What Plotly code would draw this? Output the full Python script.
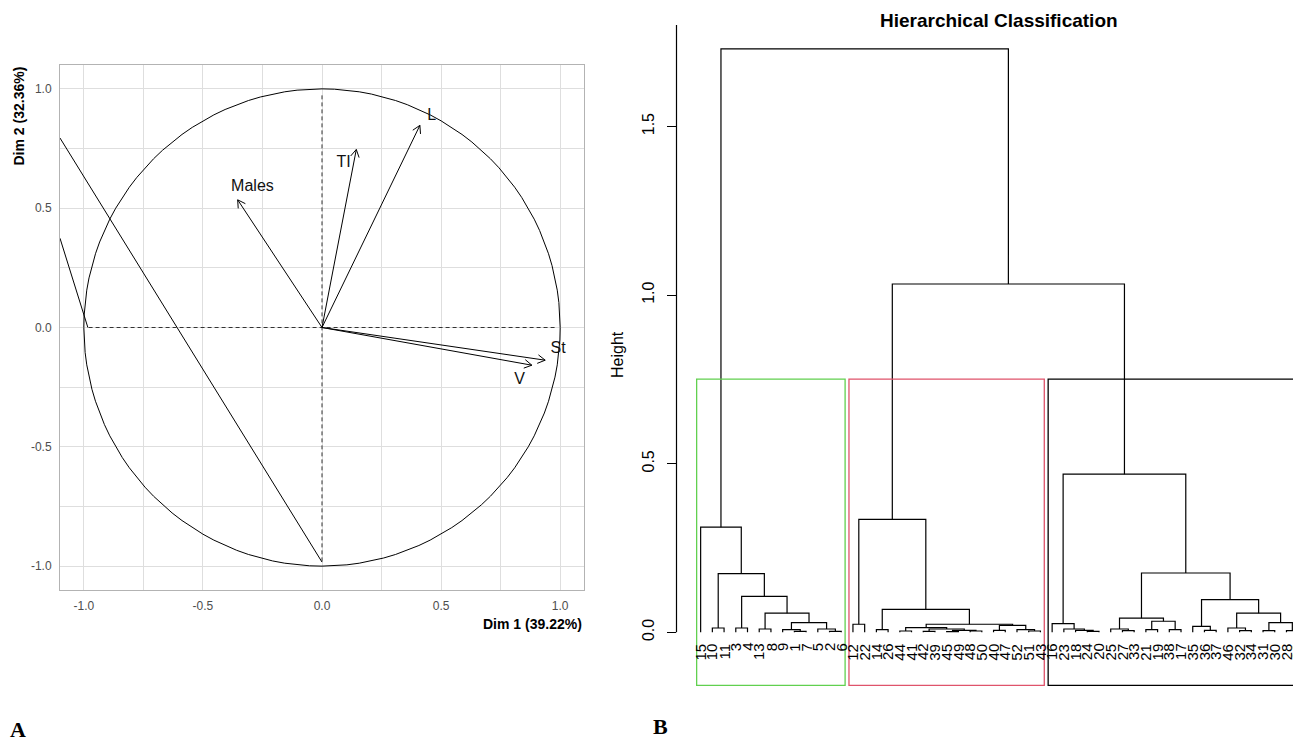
import numpy as np
import plotly.graph_objects as go

# page body has an 8px margin: make the figure fit the 1301x739 window exactly
OFF = 8
W, H = 1301 - OFF, 739 - OFF
FONT = "Liberation Sans, Arial, sans-serif"


def px(p):
    return (p - OFF) / W


def py(p):
    return 1 - (p - OFF) / H


# ---------------- Panel A : variables factor map ----------------
var_names = ["Males", "TI", "L", "St", "V"]
dim1 = [-0.354, 0.144, 0.411, 0.937, 0.881]
dim2 = [0.535, 0.746, 0.847, -0.137, -0.158]
label_x = [-0.292, 0.091, 0.461, 0.991, 0.830]
label_y = [0.588, 0.688, 0.886, -0.092, -0.218]
axis_ticks = [-1.0, -0.5, 0.0, 0.5, 1.0]
axis_ticktext = ["-1.0", "-0.5", "0.0", "0.5", "1.0"]
minor_ticks = [-0.75, -0.25, 0.25, 0.75]
dim1_title = "Dim 1 (39.22%)"
dim2_title = "Dim 2 (32.36%)"
# two stray straight strokes that appear in the figure
stray_x = [[0.0, -1.1], [-0.983, -1.1]]
stray_y = [[-0.983, 0.794], [0.0, 0.374]]
guide_extent = 0.98

# ---------------- Panel B : dendrogram ----------------
leaf_labels = [15, 10, 11, 3, 4, 13, 8, 9, 1, 7, 5, 2, 6,
               12, 22, 14, 26, 44, 41, 42, 39, 45, 49, 48, 50, 40, 47, 52, 51, 43,
               16, 23, 18, 24, 20, 25, 27, 33, 21, 19, 38, 17, 35, 36, 37, 46, 32, 34, 31, 30, 28, 29]
# R-style merge table (negative = leaf position, positive = earlier merge)
merge_left = [-9, -8, -12, -11, 2, -6, 6, -4, 8, -2, 10, -1,
              -14, -16, -18, -20, -22, -24, 17, 16, 15, -26, -29, -28, 22, 21, 14, 13,
              -34, -33, -32, -31, -37, -36, -39, -41, 35, 34, -44, -43, -47, -46, -49, -51, 43, 42, 40, 38, 32,
              28, 12]
merge_right = [-10, 1, -13, 3, 4, -7, 5, -5, 7, -3, 9, 11,
               -15, -17, -19, -21, -23, -25, 18, 19, 20, -27, -30, 23, 24, 25, 26, 27,
               -35, 29, 30, 31, -38, 33, -40, -42, 36, 37, -45, 39, -48, 41, -50, -52, 44, 45, 46, 47, 48,
               49, 50]
merge_height = [0.003, 0.008, 0.003, 0.010, 0.029, 0.010, 0.057, 0.013, 0.107, 0.013, 0.174, 0.312,
                0.024, 0.008, 0.004, 0.003, 0.002, 0.004, 0.006, 0.010, 0.014, 0.006, 0.004, 0.008, 0.021, 0.024, 0.068, 0.335,
                0.003, 0.006, 0.010, 0.026, 0.005, 0.010, 0.008, 0.008, 0.033, 0.042, 0.006, 0.018, 0.005, 0.013, 0.005, 0.005, 0.029, 0.057, 0.097, 0.176, 0.469,
                1.033, 1.730]
cluster_sizes = [13, 17, 22]
cluster_colors = ["#61D04F", "#DF536B", "#000000"]
height_ticks = [0.0, 0.5, 1.0, 1.5]
height_ticktext = ["0.0", "0.5", "1.0", "1.5"]
dendro_title = "Hierarchical Classification"

fig = go.Figure()

# ---- Panel A traces ----
theta = np.linspace(0, 2 * np.pi, 121)
fig.add_trace(go.Scatter(x=np.cos(theta), y=np.sin(theta), mode="lines",
                         line=dict(color="black", width=1), xaxis="x", yaxis="y",
                         hoverinfo="skip", showlegend=False))
for sx, sy in zip(stray_x, stray_y):
    fig.add_trace(go.Scatter(x=sx, y=sy, mode="lines", line=dict(color="black", width=1),
                             xaxis="x", yaxis="y", hoverinfo="skip", showlegend=False))
fig.add_trace(go.Scatter(x=[-guide_extent, guide_extent, None, 0, 0],
                         y=[0, 0, None, -guide_extent, guide_extent], mode="lines",
                         line=dict(color="#333333", width=1, dash="4px,3px"),
                         xaxis="x", yaxis="y", hoverinfo="skip", showlegend=False))
ax, ay = [], []
wing = 0.036
ang = np.deg2rad(30)
for x1, y1 in zip(dim1, dim2):
    ax += [0, x1, None]
    ay += [0, y1, None]
    d = np.array([x1, y1]) / np.hypot(x1, y1)
    for s in (ang, -ang):
        r = np.array([d[0] * np.cos(s) - d[1] * np.sin(s), d[0] * np.sin(s) + d[1] * np.cos(s)])
        ax += [x1 - wing * r[0], x1, None]
        ay += [y1 - wing * r[1], y1, None]
fig.add_trace(go.Scatter(x=ax, y=ay, mode="lines", line=dict(color="black", width=1),
                         xaxis="x", yaxis="y", hoverinfo="skip", showlegend=False))
fig.add_trace(go.Scatter(x=label_x, y=label_y, mode="text", text=var_names,
                         textfont=dict(family=FONT, size=16, color="#111111"),
                         xaxis="x", yaxis="y", hoverinfo="skip", showlegend=False))

# ---- Panel B traces ----
pos = {}
dx, dy = [], []


def child(c):
    if c < 0:
        return float(-c), 0.0
    return pos[c]


for k, (a, b, h) in enumerate(zip(merge_left, merge_right, merge_height), start=1):
    xa, ya = child(a)
    xb, yb = child(b)
    dx += [xa, xa, xb, xb, None]
    dy += [ya, h, h, yb, None]
    pos[k] = ((xa + xb) / 2.0, h)
fig.add_trace(go.Scatter(x=dx, y=dy, mode="lines", line=dict(color="black", width=1.2),
                         xaxis="x2", yaxis="y2", hoverinfo="skip", showlegend=False))

shapes = []
y_bottom = -0.157
cut_h = (merge_height[-2] + merge_height[-3]) / 2.0
edges = np.concatenate([[0], np.cumsum(cluster_sizes)])
for k, col in enumerate(cluster_colors):
    shapes.append(dict(type="rect", xref="x2", yref="y2",
                       x0=edges[k] + 0.66, x1=edges[k + 1] + 0.33, y0=y_bottom, y1=cut_h,
                       line=dict(color=col, width=1.3), fillcolor="rgba(0,0,0,0)"))
# y axis line of dendrogram
shapes.append(dict(type="line", xref="x2 domain", yref="y2", x0=0, x1=0, y0=0, y1=1.801,
                   line=dict(color="black", width=1.2)))

annotations = []
for i, lab in enumerate(leaf_labels, start=1):
    annotations.append(dict(x=i, y=0, xref="x2", yref="y2", text=str(lab), showarrow=False,
                            textangle=-90, xanchor="center", yanchor="top", yshift=-9,
                            font=dict(family=FONT, size=15, color="black")))
annotations += [
    dict(x=px(584), y=py(624), xref="paper", yref="paper", text="<b>%s</b>" % dim1_title,
         showarrow=False, xanchor="right", yanchor="middle", font=dict(family=FONT, size=14, color="black")),
    dict(x=px(18), y=py(65), xref="paper", yref="paper", text="<b>%s</b>" % dim2_title,
         showarrow=False, textangle=-90, xanchor="center", yanchor="top",
         font=dict(family=FONT, size=14, color="black")),
    dict(x=px(999), y=py(20), xref="paper", yref="paper", text="<b>%s</b>" % dendro_title,
         showarrow=False, xanchor="center", yanchor="middle", font=dict(family=FONT, size=19, color="black")),
    dict(x=px(617), y=py(355), xref="paper", yref="paper", text="Height",
         showarrow=False, textangle=-90, xanchor="center", yanchor="middle",
         font=dict(family=FONT, size=16, color="black")),
    dict(x=px(18), y=py(729), xref="paper", yref="paper", text="<b>A</b>",
         showarrow=False, xanchor="center", yanchor="middle",
         font=dict(family="Liberation Serif, Times New Roman, serif", size=22, color="black")),
    dict(x=px(660), y=py(726), xref="paper", yref="paper", text="<b>B</b>",
         showarrow=False, xanchor="center", yanchor="middle",
         font=dict(family="Liberation Serif, Times New Roman, serif", size=22, color="black")),
]

grid = "#DEDEDE"
common_a = dict(range=[-1.1, 1.1], tickvals=axis_ticks, ticktext=axis_ticktext,
                showgrid=True, gridcolor=grid, gridwidth=1, zeroline=False,
                showline=True, linecolor="#B3B3B3", linewidth=1, mirror=True,
                ticks="outside", ticklen=5, tickcolor="rgba(0,0,0,0)",
                tickfont=dict(family=FONT, size=12, color="#4D4D4D"),
                minor=dict(tickvals=minor_ticks, showgrid=True, gridcolor=grid, gridwidth=1, ticks=""))

fig.update_layout(
    width=W, height=H, margin=dict(l=0, r=0, t=0, b=0),
    paper_bgcolor="white", plot_bgcolor="white",
    xaxis=dict(domain=[px(60), px(584)], anchor="y", **common_a),
    yaxis=dict(domain=[py(590), py(65)], anchor="x", **common_a),
    xaxis2=dict(domain=[px(676.5), 1.0], anchor="y2", range=[-1.06, 52.24],
                showgrid=False, zeroline=False, showline=False, showticklabels=False, ticks=""),
    yaxis2=dict(domain=[py(687), py(25)], anchor="x2", range=[-0.162, 1.801],
                tickvals=height_ticks, ticktext=height_ticktext, tickangle=-90,
                ticks="outside", ticklen=9, tickwidth=1.2, tickcolor="black",
                ticklabelstandoff=6,
                tickfont=dict(family=FONT, size=16, color="black"),
                showgrid=False, zeroline=False, showline=False),
    shapes=shapes, annotations=annotations, showlegend=False,
)

fig.write_html("out.html")
